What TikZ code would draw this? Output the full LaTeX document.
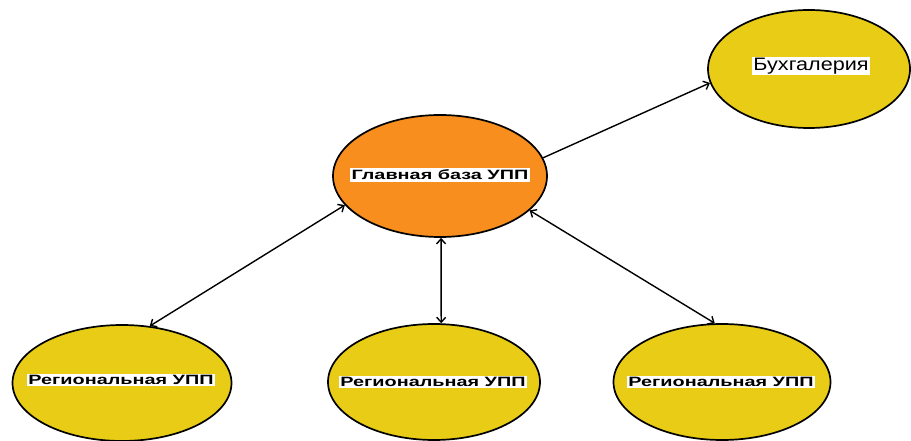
\documentclass[tikz,border=0pt]{standalone}
\usepackage{fontspec}
\setmainfont{Liberation Sans}
\usetikzlibrary{arrows.meta,shapes.geometric}
\definecolor{mainorange}{RGB}{248,142,30}
\definecolor{regyellow}{RGB}{232,204,22}
\tikzset{
  ell/.style={ellipse, draw=black, line width=1.7pt, inner sep=0pt},
  mainell/.style={ell, fill=mainorange, minimum width=214pt, minimum height=122pt},
  yell/.style={ell, fill=regyellow, minimum width=216pt, minimum height=116pt},
  lbl/.style={fill=white, inner sep=1.5pt, font=\bfseries\fontsize{13.5}{14}\selectfont},
  conn/.style={line width=1.4pt, {Straight Barb[length=5pt,width=9pt]}-{Straight Barb[length=5pt,width=9pt]}},
  conn1/.style={line width=1.4pt, -{Straight Barb[length=5pt,width=9pt]}}
}
\begin{document}
\begin{tikzpicture}[x=1pt,y=-1pt]
\useasboundingbox (0,0) rectangle (911,441);
\node[mainell] (main) at (440,176) {};
\node[lbl] (mainlbl) at (440,175) {\scalebox{1.47}[1]{Главная база УПП}};
\node[yell, minimum width=202pt, minimum height=118pt] (buh) at (809,69) {};
\node[fill=white, inner sep=1pt, font=\fontsize{18}{19}\selectfont] (buhlbl) at (811,66) {\scalebox{1.2}[1]{Бухгалерия}};
\node[yell, minimum width=219pt] (r1) at (122,383) {};
\node[lbl] (r1lbl) at (121,380) {\scalebox{1.47}[1]{Региональная УПП}};
\node[yell, minimum width=212pt] (r2) at (434,382) {};
\node[lbl] (r2lbl) at (433,382) {\scalebox{1.47}[1]{Региональная УПП}};
\node[yell, minimum width=217pt] (r3) at (722,382) {};
\node[lbl] (r3lbl) at (721,382) {\scalebox{1.47}[1]{Региональная УПП}};
\draw[conn1] (main.10) -- (buh.188);
\draw[conn] (main.197) -- (r1.64);
\draw[conn] (main.-89) -- (r2.83);
\draw[conn] (main.-21) -- (r3.97);
\end{tikzpicture}
\end{document}
